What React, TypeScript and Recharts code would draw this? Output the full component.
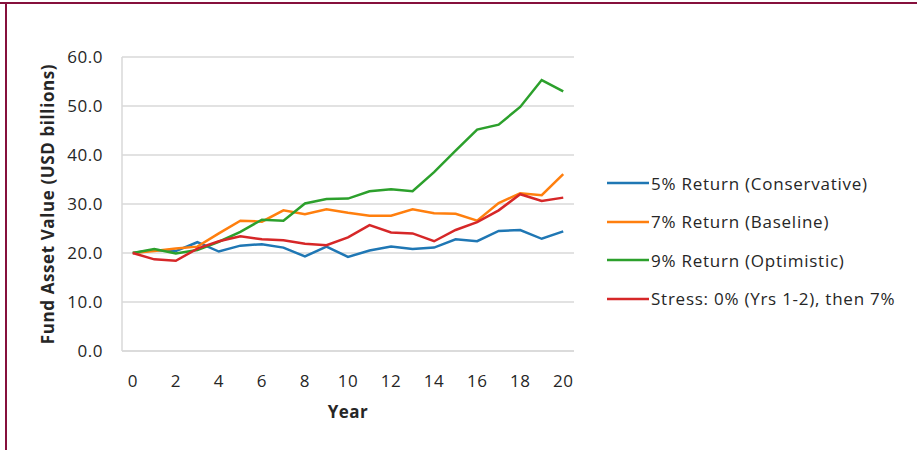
import React from 'react';
import { LineChart, Line, XAxis, YAxis, CartesianGrid, Legend, Label } from 'recharts';

// Projected fund asset value (USD billions) by year, per return scenario
const years = [0, 1, 2, 3, 4, 5, 6, 7, 8, 9, 10, 11, 12, 13, 14, 15, 16, 17, 18, 19, 20];
const conservative = [20.0, 20.6, 20.4, 22.2, 20.3, 21.5, 21.8, 21.1, 19.3, 21.3, 19.2, 20.5, 21.3, 20.8, 21.1, 22.8, 22.4, 24.5, 24.7, 22.9, 24.4];
const baseline = [20.0, 20.4, 20.9, 21.3, 24.0, 26.6, 26.4, 28.7, 27.9, 28.9, 28.2, 27.6, 27.6, 28.9, 28.1, 28.0, 26.6, 30.2, 32.2, 31.8, 36.1];
const optimistic = [20.0, 20.8, 19.9, 20.6, 22.3, 24.3, 26.8, 26.6, 30.1, 31.0, 31.1, 32.6, 33.0, 32.6, 36.5, 40.9, 45.2, 46.2, 49.8, 55.3, 53.0];
const stress = [20.0, 18.7, 18.4, 20.9, 22.4, 23.4, 22.8, 22.6, 21.9, 21.6, 23.2, 25.7, 24.2, 24.0, 22.4, 24.7, 26.3, 28.7, 32.0, 30.6, 31.3];

const seriesNames = [
  '5% Return (Conservative)',
  '7% Return (Baseline)',
  '9% Return (Optimistic)',
  'Stress: 0% (Yrs 1-2), then 7%',
];
const seriesKeys = ['conservative', 'baseline', 'optimistic', 'stress'];
const seriesColors = ['#1f77b4', '#ff7f0e', '#2ca02c', '#d62728'];

const yTicks = [0, 10, 20, 30, 40, 50, 60];
const xTicks = [0, 2, 4, 6, 8, 10, 12, 14, 16, 18, 20];

const data = years.map((year, i) => ({
  year,
  conservative: conservative[i],
  baseline: baseline[i],
  optimistic: optimistic[i],
  stress: stress[i],
}));

const FONT = "'Open Sans', sans-serif";
const TEXT = '#262626';
const GRID = '#d9d9d9';
const FRAME = '#86103c';

const LegendContent = () => (
  <div style={{ display: 'flex', flexDirection: 'column', fontFamily: FONT }}>
    {seriesNames.map((name, i) => (
      <div key={name} style={{ display: 'flex', alignItems: 'center', height: 38.5 }}>
        <svg width={42} height={4} style={{ display: 'block' }}>
          <line x1={0} y1={2} x2={42} y2={2} stroke={seriesColors[i]} strokeWidth={2.5} />
        </svg>
        <span style={{ marginLeft: 2, fontSize: 17, letterSpacing: 0.75, color: TEXT, whiteSpace: 'nowrap' }}>
          {name}
        </span>
      </div>
    ))}
  </div>
);

const YTitle = (props: any) => {
  const vb = props.viewBox || {};
  const cx = vb.x + 47;
  const cy = vb.y + vb.height / 2;
  return (
    <text
      x={cx}
      y={cy}
      transform={`rotate(-90, ${cx}, ${cy})`}
      textAnchor="middle"
      dominantBaseline="central"
      fontFamily={FONT}
      fontSize={17}
      fontWeight={700}
      letterSpacing={0.6}
      fill={TEXT}
    >
      Fund Asset Value (USD billions)
    </text>
  );
};

export default function App() {
  return (
    <div style={{ position: 'absolute', left: 0, top: 0, width: 917, height: 450, background: '#fff', overflow: 'hidden' }}>
      <div style={{ position: 'absolute', left: 0, top: 2, width: 917, height: 2, background: FRAME }} />
      <div style={{ position: 'absolute', left: 5, top: 2, width: 2, height: 448, background: FRAME }} />
      <LineChart
        width={917}
        height={450}
        data={data}
        margin={{ top: 57, right: 343, bottom: 0, left: 0 }}
        style={{ fontFamily: FONT }}
      >
        <CartesianGrid vertical={false} stroke={GRID} strokeWidth={1.5} />
        <XAxis
          dataKey="year"
          type="number"
          domain={[-0.5, 20.5]}
          ticks={xTicks}
          interval={0}
          tickLine={false}
          axisLine={{ stroke: GRID, strokeWidth: 1.5 }}
          tick={{ fill: TEXT, fontSize: 17, letterSpacing: 0.5 }}
          tickMargin={18}
          height={99}
        >
          <Label value="Year" position="insideTop" offset={55} fill={TEXT} fontSize={17} fontWeight={700} letterSpacing={0.5} />
        </XAxis>
        <YAxis
          type="number"
          domain={[0, 60]}
          ticks={yTicks}
          interval={0}
          width={122}
          tickLine={false}
          axisLine={{ stroke: GRID, strokeWidth: 1.5 }}
          tick={{ fill: TEXT, fontSize: 17, letterSpacing: 0.5 }}
          tickMargin={13}
          tickFormatter={(v: number) => v.toFixed(1)}
        >
          <Label content={<YTitle />} />
        </YAxis>
        <Legend
          layout="vertical"
          align="center"
          verticalAlign="middle"
          content={<LegendContent />}
          wrapperStyle={{ left: 607, top: 164, width: 300, height: 160 }}
        />
        {seriesKeys.map((k, i) => (
          <Line
            key={k}
            type="linear"
            dataKey={k}
            name={seriesNames[i]}
            stroke={seriesColors[i]}
            strokeWidth={2.5}
            dot={false}
            activeDot={false}
            isAnimationActive={false}
          />
        ))}
      </LineChart>
    </div>
  );
}
